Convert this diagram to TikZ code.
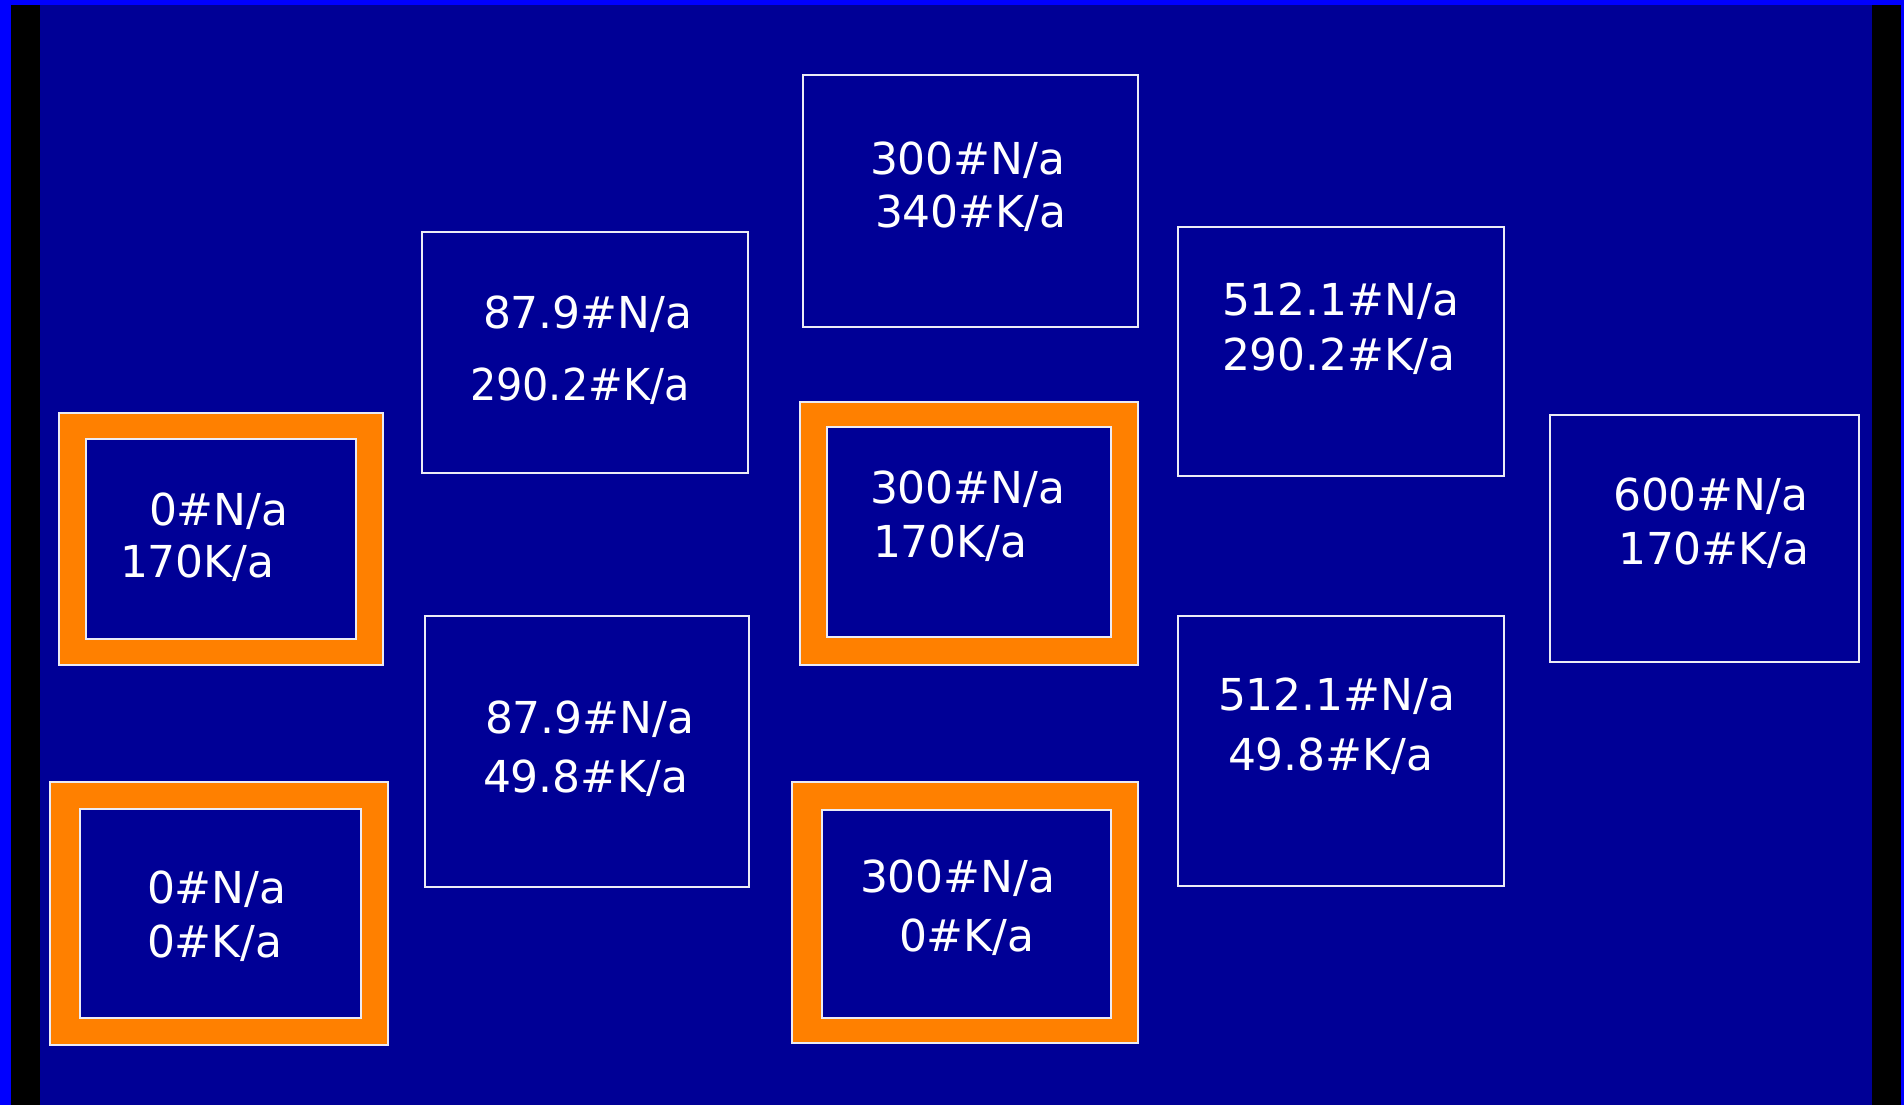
\documentclass[tikz,border=0pt]{standalone}
\usepackage{fontspec}
\setmainfont{DejaVu Sans}
\definecolor{edgeblue}{RGB}{0,0,255}
\definecolor{bgblue}{RGB}{0,0,150}
\definecolor{frameorange}{RGB}{255,128,0}
\definecolor{linewhite}{RGB}{235,235,245}
\tikzset{
  wbox/.style={draw=linewhite, line width=2.5pt, inner sep=0pt, outer sep=0pt, anchor=north west},
  obox/.style={draw=linewhite, line width=2pt, fill=frameorange, inner sep=0pt, outer sep=0pt, anchor=north west},
  ibox/.style={draw=linewhite, line width=2pt, fill=bgblue, inner sep=0pt, outer sep=0pt, anchor=north west},
  lbl/.style={text=white, inner sep=0pt, outer sep=0pt, anchor=base west, font=\fontsize{44}{52}\selectfont}
}
\begin{document}
\begin{tikzpicture}[x=1pt,y=-1pt]
\useasboundingbox (0,0) rectangle (1904,1105);
\fill[edgeblue] (0,0) rectangle (1904,1105);
\fill[black] (11,5) rectangle (1901,1105);
\fill[bgblue] (40,5) rectangle (1872,1105);

% plain boxes
\node[wbox, minimum width=335pt, minimum height=252pt] (boxA) at (803,75) {};
\node[wbox, minimum width=326pt, minimum height=241pt] (boxB) at (422,232) {};
\node[wbox, minimum width=326pt, minimum height=249pt] (boxC) at (1178,227) {};
\node[wbox, minimum width=309pt, minimum height=247pt] (boxF) at (1550,415) {};
\node[wbox, minimum width=324pt, minimum height=271pt] (boxG) at (425,616) {};
\node[wbox, minimum width=326pt, minimum height=270pt] (boxH) at (1178,616) {};

% orange framed boxes
\node[obox, minimum width=324pt, minimum height=252pt] (frameD) at (59,413) {};
\node[ibox, minimum width=270pt, minimum height=200pt] (boxD) at (86,439) {};
\node[obox, minimum width=338pt, minimum height=263pt] (frameE) at (800,402) {};
\node[ibox, minimum width=284pt, minimum height=210pt] (boxE) at (827,427) {};
\node[obox, minimum width=338pt, minimum height=263pt] (frameI) at (50,782) {};
\node[ibox, minimum width=281pt, minimum height=209pt] (boxI) at (80,809) {};
\node[obox, minimum width=346pt, minimum height=261pt] (frameJ) at (792,782) {};
\node[ibox, minimum width=289pt, minimum height=208pt] (boxJ) at (822,810) {};

% labels
\node[lbl] (tA1) at (870,175) {300\#N/a};
\node[lbl] (tA2) at (875,227) {340\#K/a};
\node[lbl] (tB1) at (483,328) {87.9\#N/a};
\node[lbl, xscale=0.94] (tB2) at (470,400) {290.2\#K/a};
\node[lbl] (tC1) at (1222,315) {512.1\#N/a};
\node[lbl] (tC2) at (1222,370) {290.2\#K/a};
\node[lbl] (tD1) at (149,525) {0\#N/a};
\node[lbl] (tD2) at (120,577) {170K/a};
\node[lbl] (tE1) at (870,503) {300\#N/a};
\node[lbl] (tE2) at (873,557) {170K/a};
\node[lbl] (tF1) at (1613,510) {600\#N/a};
\node[lbl] (tF2) at (1618,564) {170\#K/a};
\node[lbl] (tG1) at (485,733) {87.9\#N/a};
\node[lbl] (tG2) at (483,792) {49.8\#K/a};
\node[lbl] (tH1) at (1218,710) {512.1\#N/a};
\node[lbl] (tH2) at (1228,770) {49.8\#K/a};
\node[lbl] (tI1) at (147,903) {0\#N/a};
\node[lbl] (tI2) at (147,957) {0\#K/a};
\node[lbl] (tJ1) at (860,892) {300\#N/a};
\node[lbl] (tJ2) at (899,951) {0\#K/a};
\end{tikzpicture}
\end{document}
